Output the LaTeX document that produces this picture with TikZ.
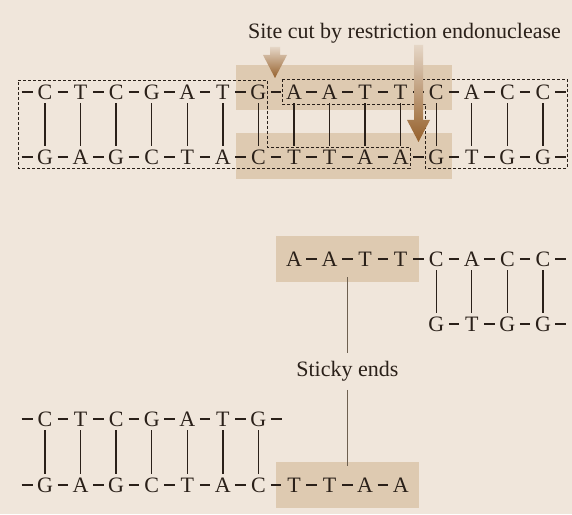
\documentclass[tikz,border=0pt]{standalone}
\usepackage{fontspec}
\setmainfont{Liberation Serif}
\usetikzlibrary{positioning,fit,backgrounds}
\definecolor{paper}{HTML}{F0E6DB}
\definecolor{sand}{HTML}{DECAB1}
\definecolor{ink}{HTML}{2A2019}
\definecolor{rust}{HTML}{95602B}
\definecolor{leadgray}{HTML}{6E6050}
\tikzset{
  % baser
  nb/.style={inner sep=0pt,minimum width=20pt,minimum height=22pt,text height=14.7pt,
             text depth=0pt,text=ink,font=\fontsize{22}{24}\selectfont},
  bond/.style={draw=ink,line width=1.5pt,shorten <=2.3pt,shorten >=2.3pt},
  pair/.style={draw=ink,line width=1.3pt},
  site/.style={draw=ink,line width=0.8pt,dash pattern=on 3pt off 2pt},
  hl/.style={fill=sand,draw=none,inner sep=0pt},
  lead/.style={draw=leadgray,line width=1pt},
  lbl/.style={text=ink,font=\fontsize{22}{24}\selectfont,inner xsep=2pt,inner ysep=8pt},
  cutarrow/.style={top color=rust!12!paper,bottom color=rust},
}
\begin{document}
\begin{tikzpicture}[x=1pt,y=1pt]
\useasboundingbox (0,0) rectangle (572,514);
\begin{scope}[on background layer]
  \fill[paper] (0,0) rectangle (572,514);
  \fill[sand] (236,404) rectangle (452,449);
  \fill[sand] (236,335) rectangle (452,381);
\end{scope}
  \node[lbl,inner ysep=0pt] (title) at (404.5,481) {Site cut by restriction endonuclease};
  % hela dna
  \foreach \b [count=\i] in {C,T,C,G,A,T,G,A,A,T,T,C,A,C,C}
    \node[nb] (u\i) at ({45+35.57*(\i-1)},422) {\b};
  \foreach \b [count=\i] in {G,A,G,C,T,A,C,T,T,A,A,G,T,G,G}
    \node[nb] (l\i) at ({45+35.57*(\i-1)},357) {\b};
  \coordinate (u0) at (19.4,422);  \coordinate (u16) at (568.6,422);
  \coordinate (l0) at (19.4,357);  \coordinate (l16) at (568.6,357);
  \foreach \i [remember=\i as \p (initially 0)] in {1,...,16} {
    \draw[bond] (u\p) -- (u\i);
    \draw[bond] (l\p) -- (l\i);
  }
  \foreach \i in {1,...,15} \draw[pair] (u\i) -- (l\i);
  \draw[site] (18,434) -- (267,434) -- (267,367) -- (410,367) -- (410,346) -- (18,346) -- cycle;
  \draw[site] (282,435) -- (567,435) -- (567,346) -- (425,346) -- (425,410) -- (282,410) -- cycle;
  \shade[cutarrow] (270,467) -- (280,467) -- (280,459) -- (287,459) -- (275,436)
    -- (263,459) -- (270,459) -- cycle;
  \shade[cutarrow] (414,469) -- (423,469) -- (423,394) -- (430,394) -- (418.5,372)
    -- (407,394) -- (414,394) -- cycle;
  % högra biten
  \foreach \b [count=\i from 8] in {A,A,T,T,C,A,C,C}
    \node[nb] (r\i) at ({45+35.57*(\i-1)},255) {\b};
  \foreach \b [count=\i from 12] in {G,T,G,G}
    \node[nb] (s\i) at ({45+35.57*(\i-1)},190) {\b};
  \coordinate (r16) at (568.6,255);  \coordinate (s16) at (568.6,190);
  \foreach \i [remember=\i as \p (initially 8)] in {9,...,16} \draw[bond] (r\p) -- (r\i);
  \foreach \i [remember=\i as \p (initially 12)] in {13,...,16} \draw[bond] (s\p) -- (s\i);
  \foreach \i in {12,...,15} \draw[pair] (r\i) -- (s\i);
  % vänstra biten
  \foreach \b [count=\i] in {C,T,C,G,A,T,G}
    \node[nb] (a\i) at ({45+35.57*(\i-1)},95) {\b};
  \foreach \b [count=\i] in {G,A,G,C,T,A,C,T,T,A,A}
    \node[nb] (b\i) at ({45+35.57*(\i-1)},29) {\b};
  \coordinate (a0) at (19.4,95);  \coordinate (a8) at (284,95);
  \coordinate (b0) at (19.4,29);
  \foreach \i [remember=\i as \p (initially 0)] in {1,...,8} \draw[bond] (a\p) -- (a\i);
  \foreach \i [remember=\i as \p (initially 0)] in {1,...,11} \draw[bond] (b\p) -- (b\i);
  \foreach \i in {1,...,7} \draw[pair] (a\i) -- (b\i);
\begin{scope}[on background layer]
  \node[hl,fit=(r8)(r11),inner xsep=8pt,inner ysep=12pt] (endA) {};
  \node[hl,fit=(b8)(b11),inner xsep=8pt,inner ysep=12pt] (endB) {};
\end{scope}
  \node[lbl,below=71pt of endA] (sticky) {Sticky ends};
  \draw[lead,shorten <=-5pt] (endA.south) -- (sticky.north);
  \draw[lead,shorten >=-4pt] (sticky.south) -- (endB.north);
\end{tikzpicture}
\end{document}
